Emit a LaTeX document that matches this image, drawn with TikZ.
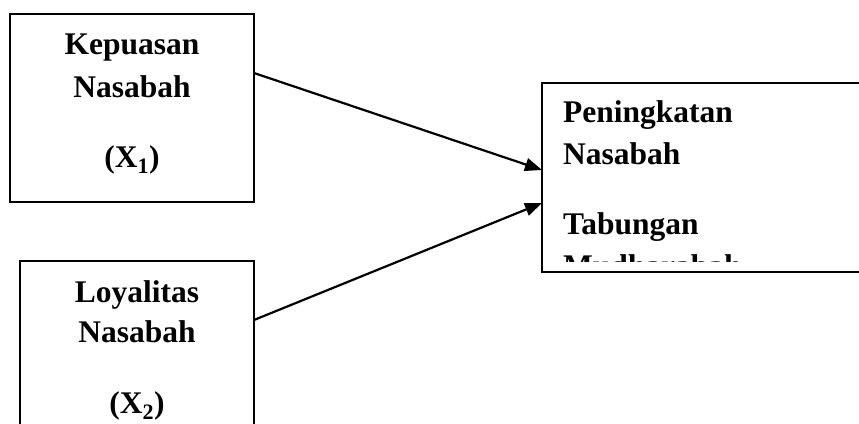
\documentclass[tikz,border=0pt]{standalone}
\usepackage{fontspec}
\setmainfont{Liberation Serif}
\usetikzlibrary{arrows.meta,calc}
\begin{document}
\begin{tikzpicture}[x=1pt,y=1pt,
  box/.style={draw=black,line width=2.2pt,inner sep=0pt,outer sep=0pt},
  lbl/.style={inner sep=0pt,font=\fontsize{31.5}{38}\selectfont\bfseries},
  arr/.style={line width=2.2pt,-{Triangle[length=17pt,width=13pt]}}]
\useasboundingbox (0,0) rectangle (859,423);
\clip (0,0) rectangle (859,423);
\node[box,minimum width=244pt,minimum height=188pt] (b1) at (132,315) {};
\node[box,minimum width=234pt,minimum height=192pt] (b2) at (137,66) {};
\node[box,minimum width=333pt,minimum height=189pt] (b3) at (708.5,245.5) {};
\node[lbl,anchor=base] (t11) at (132,368) {Kepuasan};
\node[lbl,anchor=base] (t12) at (132,325) {Nasabah};
\node[lbl,anchor=base] (t13) at (132,255) {(X\textsubscript{1})};
\node[lbl,anchor=base] (t21) at (137,120) {Loyalitas};
\node[lbl,anchor=base] (t22) at (137,80) {Nasabah};
\node[lbl,anchor=base] (t23) at (137,10) {(X\textsubscript{2})};
\node[lbl,anchor=base west] (t31) at (563,300) {Peningkatan};
\node[lbl,anchor=base west] (t32) at (563,258) {Nasabah};
\node[lbl,anchor=base west] (t33) at (563,188) {Tabungan};
\begin{scope}
\clip (550,161) rectangle (859,200);
\node[lbl,anchor=base west] (t34) at (563,146) {Mudharabah};
\end{scope}
\coordinate (s1) at ($(b1.north east)+(0,-59)$);
\coordinate (s2) at ($(b2.north east)+(0,-59)$);
\coordinate (e1) at ($(b3.north west)+(0,-87)$);
\coordinate (e2) at ($(b3.north west)+(0,-120)$);
\draw[arr] (s1) -- (e1);
\draw[arr] (s2) -- (e2);
\end{tikzpicture}
\end{document}
